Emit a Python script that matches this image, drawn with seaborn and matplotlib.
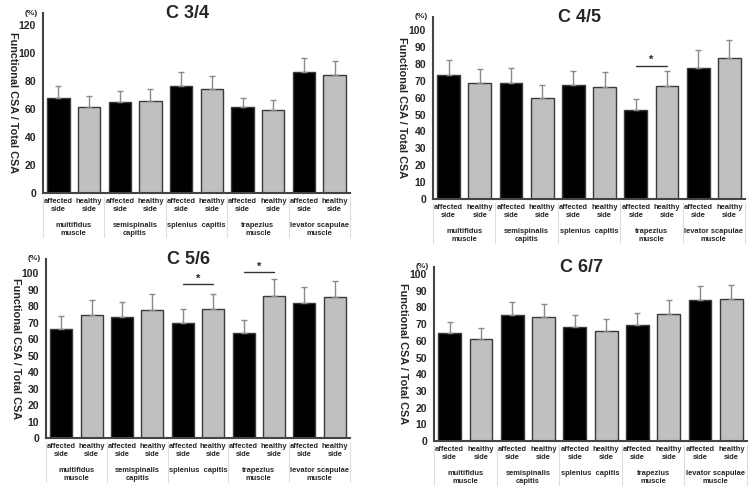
import numpy as np
import pandas as pd
import matplotlib
matplotlib.use('Agg')
import matplotlib.pyplot as plt
import seaborn as sns

sns.set_style('white')
plt.rcParams['font.family'] = ['Liberation Sans', 'DejaVu Sans']
plt.rcParams['font.weight'] = 'bold'

muscles = ['multifidus\nmuscle', 'semispinalis\ncapitis', 'splenius  capitis',
           'trapezius\nmuscle', 'levator scapulae\nmuscle']
sides = ['affected', 'healthy']
side_labels = ['affected\nside', 'healthy\nside']

# mean values (%) per bar, order: muscle1 affected, muscle1 healthy, ...
c34_mean = [68.2, 61.6, 65.2, 65.9, 76.8, 74.5, 61.1, 59.2, 86.6, 84.2]
c34_sd = [8.2, 7.6, 7.6, 8.1, 9.4, 9.0, 6.7, 6.9, 10.1, 9.8]
c45_mean = [73.4, 68.5, 68.5, 59.8, 67.3, 66.3, 52.4, 66.9, 77.8, 83.5]
c45_sd = [8.9, 8.5, 8.9, 7.5, 8.7, 8.7, 6.6, 8.7, 10.2, 10.4]
c56_mean = [66.1, 75.0, 73.4, 78.1, 70.2, 78.5, 63.9, 86.2, 82.2, 85.4]
c56_sd = [7.9, 9.0, 9.0, 9.3, 8.5, 9.1, 7.9, 10.6, 9.5, 10.1]
c67_mean = [64.6, 61.0, 75.4, 74.4, 68.2, 66.0, 69.6, 75.8, 84.4, 85.0]
c67_sd = [6.6, 6.8, 7.6, 7.6, 7.2, 6.8, 7.2, 8.4, 8.4, 8.6]

# significance brackets: (bar from, bar to, height)
c45_sig = [(6, 7, 78.9)]
c56_sig = [(4, 5, 93.5), (6, 7, 100.6)]

panels = [
    ('C 3/4', c34_mean, c34_sd, [], [43, 13, 350, 193], 128.6, 20),
    ('C 4/5', c45_mean, c45_sd, c45_sig, [433, 17, 745, 199], 107.7, 10),
    ('C 5/6', c56_mean, c56_sd, c56_sig, [46, 259, 350, 438], 108.8, 10),
    ('C 6/7', c67_mean, c67_sd, [], [434, 267, 747, 441], 104.2, 10),
]

W, H = 750, 491
fig = plt.figure(figsize=(7.5, 4.91), dpi=100)

for title, mean, sd, sig, box, ytop, ystep in panels:
    x0, y0, x1, y1 = box
    ax = fig.add_axes([x0 / W, (H - y1) / H, (x1 - x0) / W, (y1 - y0) / H])
    ids = [m + '|' + s for m in muscles for s in sides]
    df = pd.DataFrame({'bar': ids, 'value': mean,
                       'side': [s for m in muscles for s in sides]})
    sns.barplot(data=df, x='bar', y='value', hue='side', order=ids, dodge=False,
                palette={'affected': 'black', 'healthy': '#c0c0c0'},
                edgecolor='#3a3a3a', linewidth=1, width=0.73, legend=False, ax=ax)
    xs = np.arange(len(ids))
    ax.errorbar(xs, mean, yerr=[np.zeros(len(sd)), sd], fmt='none',
                ecolor='#8a8a8a', elinewidth=1, capsize=2, capthick=1)
    for a, b, h in sig:
        ax.plot([a, b], [h, h], color='#333333', lw=1)
        ax.text((a + b) / 2, h + 0.5, '*', ha='center', va='bottom', fontsize=8)

    ax.set_xlim(-0.5, len(ids) - 0.5)
    ax.set_ylim(0, ytop)
    ax.set_yticks(np.arange(0, ytop, ystep))
    ax.tick_params(axis='y', labelsize=7.5, length=0, pad=5)
    ax.set_xticks([])
    ax.set_xlabel('')
    ax.set_ylabel('Functional CSA / Total CSA', fontsize=7.8, rotation=270,
                  labelpad=9, fontweight='bold')
    ax.yaxis.set_label_coords(-0.115, 0.5)
    for sp in ['top', 'right']:
        ax.spines[sp].set_visible(False)
    for sp in ['left', 'bottom']:
        ax.spines[sp].set_color('#444444')
        ax.spines[sp].set_linewidth(1.5)

    # category table under the axis
    for i in range(len(ids)):
        ax.annotate(side_labels[i % 2], xy=(i, 0), xycoords=('data', 'axes fraction'),
                    xytext=(0, -3.5), textcoords='offset points', ha='center', va='top',
                    fontsize=5.4, linespacing=1.25)
    for j, m in enumerate(muscles):
        ax.annotate(m, xy=(2 * j + 0.5, 0), xycoords=('data', 'axes fraction'),
                    xytext=(0, -21), textcoords='offset points', ha='center', va='top',
                    fontsize=5.4, linespacing=1.25)
    hpx = y1 - y0
    for k in range(len(muscles) + 1):
        ax.plot([2 * k - 0.5, 2 * k - 0.5], [-4 / hpx, -44 / hpx], color='#dddddd', lw=0.8,
                transform=ax.get_xaxis_transform(), clip_on=False)

    ax.text(0.47, 1.0, title, transform=ax.transAxes, ha='center', va='center',
            fontsize=13, fontweight='bold')
    ax.annotate('(%)', xy=(0, 1), xycoords='axes fraction', xytext=(-4, 0),
                textcoords='offset points', ha='right', va='center', fontsize=6)

fig.savefig('out.png', dpi=100)
